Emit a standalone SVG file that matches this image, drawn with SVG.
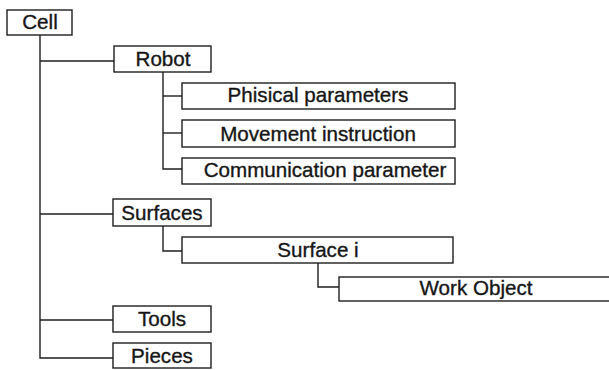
<svg xmlns="http://www.w3.org/2000/svg" width="609" height="370" viewBox="0 0 609 370">
  <style>
    .box { fill: #ffffff; stroke: #1e1e1e; stroke-width: 1.4; }
    .lbl { font-family: "Liberation Sans", Arial, sans-serif; font-size: 20.6px; fill: #161616; stroke: #161616; stroke-width: 0.35; text-anchor: middle; }
    .wire { fill: none; stroke: #1e1e1e; stroke-width: 1.4; }
  </style>
  <rect width="609" height="370" fill="#ffffff"/>

  <!-- tree connectors -->
  <g id="connectors">
    <path class="wire" d="M40,35 V358 H113"/>
    <path class="wire" d="M40,61 H114"/>
    <path class="wire" d="M40,214 H113"/>
    <path class="wire" d="M40,320 H113"/>
    <path class="wire" d="M163,72 V169 H182"/>
    <path class="wire" d="M163,96 H182"/>
    <path class="wire" d="M163,133 H182"/>
    <path class="wire" d="M163,226 V251 H182"/>
    <path class="wire" d="M318,263 V287 H339"/>
  </g>

  <g id="cell">
    <rect class="box" x="7" y="10" width="65" height="25"/>
    <text class="lbl" x="40" y="29">Cell</text>
  </g>
  <g id="robot">
    <rect class="box" x="114" y="46" width="97" height="26"/>
    <text class="lbl" x="163" y="66">Robot</text>
  </g>
  <g id="physical-parameters">
    <rect class="box" x="182" y="83" width="273" height="26"/>
    <text class="lbl" x="318" y="102">Phisical parameters</text>
  </g>
  <g id="movement-instruction">
    <rect class="box" x="182" y="120" width="273" height="27"/>
    <text class="lbl" x="318" y="141">Movement instruction</text>
  </g>
  <g id="communication-parameter">
    <rect class="box" x="182" y="158" width="273" height="26"/>
    <text class="lbl" x="325" y="177">Communication parameter</text>
  </g>
  <g id="surfaces">
    <rect class="box" x="113" y="199" width="98" height="27"/>
    <text class="lbl" x="162" y="220">Surfaces</text>
  </g>
  <g id="surface-i">
    <rect class="box" x="182" y="237" width="271" height="26"/>
    <text class="lbl" x="318" y="257">Surface i</text>
  </g>
  <g id="work-object">
    <rect class="box" x="339" y="277" width="280" height="24"/>
    <text class="lbl" x="476" y="295">Work Object</text>
  </g>
  <g id="tools">
    <rect class="box" x="113" y="306" width="98" height="26"/>
    <text class="lbl" x="162" y="326">Tools</text>
  </g>
  <g id="pieces">
    <rect class="box" x="113" y="343" width="98" height="25"/>
    <text class="lbl" x="162" y="363">Pieces</text>
  </g>
</svg>
